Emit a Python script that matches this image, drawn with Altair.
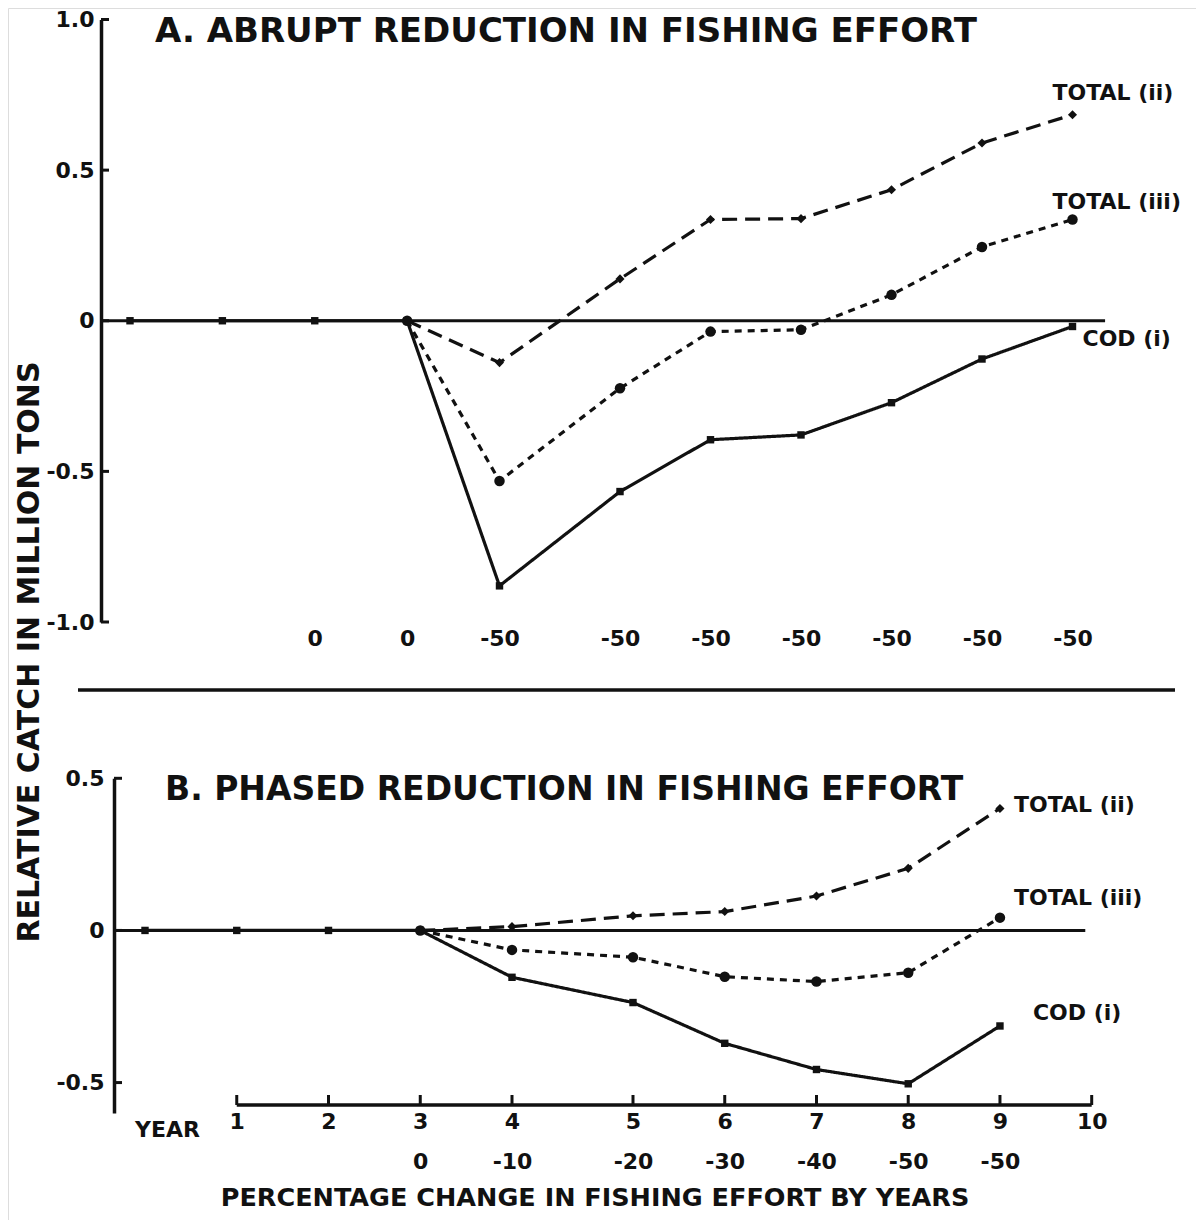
import json
import altair as alt
import pandas as pd

# ---------------- data ----------------
SERIES = ["COD (i)", "TOTAL (ii)", "TOTAL (iii)"]

# Panel A: abrupt reduction
YEARS_A = [0, 1, 2, 3, 4, 5, 6, 7, 8, 9, 10]
COD_A = [0, 0, 0, 0, -0.88, -0.567, -0.395, -0.379, -0.272, -0.127, -0.019]
YEARS_TOTAL_A = [3, 4, 5, 6, 7, 8, 9, 10]
TOTAL_II_A = [0, -0.139, 0.139, 0.336, 0.339, 0.435, 0.590, 0.684]
TOTAL_III_A = [0, -0.532, -0.224, -0.036, -0.030, 0.086, 0.245, 0.336]

# Panel B: phased reduction
YEARS_B = [0, 1, 2, 3, 4, 5, 6, 7, 8, 9]
COD_B = [0, 0, 0, 0, -0.154, -0.237, -0.371, -0.457, -0.504, -0.314]
YEARS_TOTAL_B = [3, 4, 5, 6, 7, 8, 9]
TOTAL_II_B = [0, 0.0125, 0.048, 0.062, 0.113, 0.204, 0.401]
TOTAL_III_B = [0, -0.064, -0.088, -0.152, -0.168, -0.139, 0.042]

# tick values and labels
Y_TICKS_A = [-1.0, -0.5, 0.0, 0.5, 1.0]
Y_TICKS_B = [-0.5, 0.0, 0.5]
PCT_YEARS_A = [2, 3, 4, 5, 6, 7, 8, 9, 10]
PCT_LABELS_A = ["0", "0", "-50", "-50", "-50", "-50", "-50", "-50", "-50"]
YEAR_TICKS_B = [1, 2, 3, 4, 5, 6, 7, 8, 9, 10]
PCT_LABELS_B = ["", "", "0", "-10", "-20", "-30", "-40", "-50", "-50", ""]

TITLE_A = "A. ABRUPT REDUCTION IN FISHING EFFORT"
TITLE_B = "B. PHASED REDUCTION IN FISHING EFFORT"
Y_TITLE = "RELATIVE CATCH IN MILLION TONS"
X_TITLE = "PERCENTAGE CHANGE IN FISHING EFFORT BY YEARS"

# ---------------- styling ----------------
INK = "#111111"
FONT = "DejaVu Sans"
W, H = 1188, 1212

XA_SCALE = alt.Scale(domain=[0, 4, 5, 10], range=[122, 491.5, 612, 1064.5], zero=False, nice=False)
YA_SCALE = alt.Scale(domain=[-1, 1], range=[614, 11.5], zero=False, nice=False)
XB_SCALE = alt.Scale(domain=[0, 4, 5, 10], range=[137, 504, 625, 1083.7], zero=False, nice=False)
YB_SCALE = alt.Scale(domain=[-0.6, 0.5], range=[1105, 770.3], zero=False, nice=False)

NUM_EXPR = "datum.value == 0 ? '0' : (datum.value < 0 ? '-' : '') + format(abs(datum.value), '.1f')"

lab_a = [""] * 11
for yv, lb in zip(PCT_YEARS_A, PCT_LABELS_A):
    lab_a[yv] = lb
PCT_EXPR_A = json.dumps(lab_a) + "[datum.value]"

lab_b = [["", ""]] + [[str(yv), pl] for yv, pl in zip(YEAR_TICKS_B, PCT_LABELS_B)]
YEAR_EXPR_B = json.dumps(lab_b) + "[datum.value]"

common_axis = dict(labelFont=FONT, labelFontWeight="bold", labelColor=INK, domainColor=INK,
                   grid=False, title=None, labelOverlap=False)

AX_YA = alt.Axis(orient="left", offset=-93, values=Y_TICKS_A, labelExpr=NUM_EXPR, ticks=False,
                 domainWidth=3.5, labelFontSize=22, labelPadding=7, **common_axis)
AX_XA = alt.Axis(orient="bottom", offset=617 - H, values=PCT_YEARS_A, labelExpr=PCT_EXPR_A,
                 domain=False, ticks=False, labelFontSize=22, labelPadding=3, labelBaseline="top",
                 labelFlush=False, **common_axis)
AX_YB = alt.Axis(orient="left", offset=-106, values=Y_TICKS_B, labelExpr=NUM_EXPR, ticks=False,
                 domainWidth=3.5, labelFontSize=22, labelPadding=10, **common_axis)
AX_XB = alt.Axis(orient="bottom", offset=1097 - H, values=YEAR_TICKS_B, labelExpr=YEAR_EXPR_B,
                 domain=False, ticks=False, labelFontSize=22, labelPadding=6, labelBaseline="top",
                 labelLineHeight=40, labelFlush=False, **common_axis)

DASH = alt.StrokeDash("series:N", scale=alt.Scale(domain=SERIES, range=[[1, 0], [15, 8], [7, 6]]), legend=None)
SHAPE = alt.Shape("series:N", scale=alt.Scale(domain=SERIES, range=["square", "diamond", "circle"]), legend=None)
SIZE = alt.Size("series:N", scale=alt.Scale(domain=SERIES, range=[55, 110, 65]), legend=None)

ONE = pd.DataFrame({"k": [0]})


def long_df(years_cod, cod, years_tot, tii, tiii):
    rows = []
    for yv, v in zip(years_cod, cod):
        rows.append({"year": yv, "value": v, "series": SERIES[0]})
    for yv, v in zip(years_tot, tii):
        rows.append({"year": yv, "value": v, "series": SERIES[1]})
    for yv, v in zip(years_tot, tiii):
        rows.append({"year": yv, "value": v, "series": SERIES[2]})
    return pd.DataFrame(rows)


def panel(df, xs, ys, axx, axy, yticks, zero_ext, labels, axis_px):
    X = lambda f: alt.X(f, type="quantitative", scale=xs, axis=axx)
    Y = lambda f: alt.Y(f, type="quantitative", scale=ys, axis=axy)
    lines = alt.Chart(df).mark_line(color=INK, strokeWidth=3.2, strokeCap="butt").encode(
        x=X("year"), y=Y("value"), detail="series:N", strokeDash=DASH)
    pts = alt.Chart(df).mark_point(filled=True, color=INK, opacity=1).encode(
        x=X("year"), y=Y("value"), shape=SHAPE, size=SIZE)
    zero = alt.Chart(ONE).mark_rule(color=INK, strokeWidth=3).encode(
        x=alt.XDatum(zero_ext[0], scale=xs, axis=axx), x2=alt.datum(zero_ext[1]),
        y=alt.YDatum(0, scale=ys, axis=axy))
    ticks = alt.Chart(pd.DataFrame({"tick": yticks})).mark_rule(color=INK, strokeWidth=3).encode(
        y=Y("tick"), x=alt.value(axis_px), x2=alt.value(axis_px + 8))
    layers = [zero, lines, pts, ticks]
    for txt, xv, yv, dx, dy in labels:
        layers.append(alt.Chart(ONE).mark_text(
            align="left", baseline="middle", dx=dx, dy=dy, font=FONT, fontWeight="bold",
            fontSize=22, color=INK).encode(
            x=alt.XDatum(xv, scale=xs, axis=axx), y=alt.YDatum(yv, scale=ys, axis=axy),
            text=alt.value(txt)))
    return layers


dfA = long_df(YEARS_A, COD_A, YEARS_TOTAL_A, TOTAL_II_A, TOTAL_III_A)
dfB = long_df(YEARS_B, COD_B, YEARS_TOTAL_B, TOTAL_II_B, TOTAL_III_B)

labels_A = [
    ("TOTAL (ii)", YEARS_TOTAL_A[-1], TOTAL_II_A[-1], -20, -22),
    ("TOTAL (iii)", YEARS_TOTAL_A[-1], TOTAL_III_A[-1], -20, -18),
    ("COD (i)", YEARS_A[-1], COD_A[-1], 10, 13),
]
labels_B = [
    ("TOTAL (ii)", YEARS_TOTAL_B[-1], TOTAL_II_B[-1], 14, -3),
    ("TOTAL (iii)", YEARS_TOTAL_B[-1], TOTAL_III_B[-1], 14, -20),
    ("COD (i)", YEARS_B[-1], COD_B[-1], 33, -13),
]

panelA = alt.layer(*panel(dfA, XA_SCALE, YA_SCALE, AX_XA, AX_YA, Y_TICKS_A, (-0.31, 10.36), labels_A, 93))

layersB = panel(dfB, XB_SCALE, YB_SCALE, AX_XB, AX_YB, Y_TICKS_B, (-0.34, 9.93), labels_B, 106)
xaxisB = alt.Chart(ONE).mark_rule(color=INK, strokeWidth=3.5).encode(
    x=alt.XDatum(YEAR_TICKS_B[0], scale=XB_SCALE, axis=AX_XB), x2=alt.datum(YEAR_TICKS_B[-1]),
    y=alt.value(1097))
xticksB = alt.Chart(pd.DataFrame({"year": YEAR_TICKS_B})).mark_rule(color=INK, strokeWidth=3).encode(
    x=alt.X("year", type="quantitative", scale=XB_SCALE, axis=AX_XB),
    y=alt.value(1087), y2=alt.value(1097))
panelB = alt.layer(*(layersB + [xaxisB, xticksB]))


def text_value(txt, x, y, size, angle=0, align="left"):
    kw = dict(align=align, baseline="middle", font=FONT, fontWeight="bold", fontSize=size, color=INK)
    if angle:
        kw["angle"] = angle
    return alt.Chart(ONE).mark_text(**kw).encode(x=alt.value(x), y=alt.value(y), text=alt.value(txt))


decor = alt.layer(
    text_value(TITLE_A, 147, 24, 34),
    text_value(TITLE_B, 157, 782, 33),
    text_value(Y_TITLE, 22, 644, 30, angle=270, align="center"),
    text_value(X_TITLE, 587, 1190, 25.5, align="center"),
    text_value("YEAR", 127, 1122, 22),
    alt.Chart(ONE).mark_rule(color=INK, strokeWidth=3.5).encode(
        x=alt.value(70), x2=alt.value(1167), y=alt.value(682)),
)

chart = alt.layer(panelA, panelB, decor).resolve_scale(
    x="independent", y="independent"
).properties(
    width=W, height=H, padding=0, autosize=alt.AutoSizeParams(type="none")
).configure_view(stroke=None).configure(background="white")

chart.save("out.html", embed_options={"renderer": "svg", "actions": False})
